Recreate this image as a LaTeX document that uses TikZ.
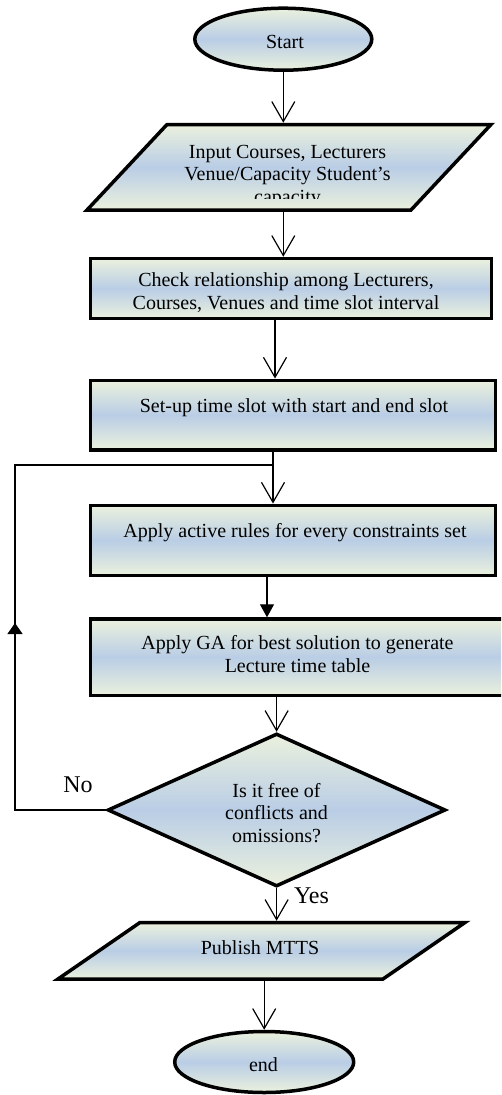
\documentclass[tikz,border=0pt]{standalone}
\usepackage{fontspec}
\setmainfont{Liberation Serif}
\usetikzlibrary{shapes.geometric,arrows.meta}
\definecolor{lgr}{RGB}{235,241,222}
\definecolor{lbl}{RGB}{185,205,229}
\begin{document}
\begin{tikzpicture}[x=1pt,y=-1pt,
  shp/.style={draw=black, line width=3.5pt, top color=lgr, bottom color=lgr, middle color=lbl, inner sep=0pt},
  bx/.style={shp, rectangle},
  hold/.style={inner sep=0pt, outer sep=0pt},
  txt/.style={inner sep=0pt, align=center, font=\fontsize{20}{22.5}\selectfont},
  lab/.style={inner sep=0pt, font=\fontsize{24}{28.8}\selectfont},
  arr/.style={line width=1.1pt, -{Straight Barb[length=20pt,width=23pt,line width=1.2pt]}},
  farr/.style={line width=1.1pt, -{Triangle[length=13pt,width=14pt]}},
  uarr/.style={line width=1.1pt, -{Triangle[length=11pt,width=15pt]}},
  ln/.style={line width=1.1pt}]
\useasboundingbox (0,0) rectangle (501,1095);
\clip (0,0) rectangle (501,1095);

% shapes
\node[shp, ellipse, minimum width=177pt, minimum height=62pt] (start) at (283.3,39.2) {};
\node[hold, minimum width=404pt, minimum height=89pt] (in) at (289,167.25) {};
\path[shp] (167,124.5) -- (491,124.5) -- (411,210) -- (87,210) -- cycle;
\node[bx, minimum width=401.2pt, minimum height=59.8pt] (chk) at (290.9,288.4) {};
\node[bx, minimum width=405.2pt, minimum height=69.6pt] (setup) at (292.9,415.1) {};
\node[bx, minimum width=405.2pt, minimum height=70pt] (apply) at (292.9,540.3) {};
\node[bx, minimum width=429.7pt, minimum height=76.3pt] (ga) at (305.2,657.2) {};
\node[shp, diamond, minimum width=338pt, minimum height=153pt] (dia) at (276.6,810) {};
\node[hold, minimum width=407pt, minimum height=60pt] (pub) at (261.5,950.75) {};
\path[shp] (140,922.5) -- (465,922.5) -- (383,979) -- (58,979) -- cycle;
\node[shp, ellipse, minimum width=179pt, minimum height=61pt] (end) at (264.2,1062) {};

% texts
\node[txt] (start-t) at (285,43.8) {\strut Start};
\begin{scope}
\clip (0,0) rectangle (501,198.5);
\node[txt] (in-t) at (287.5,176) {\strut Input Courses, Lecturers\\\strut Venue/Capacity Student’s\\\strut capacity};
\end{scope}
\node[txt] (chk-t) at (286,293.4) {\strut Check relationship among Lecturers,\\\strut Courses, Venues and time slot interval};
\node[txt] (setup-t) at (294,407.5) {\strut Set-up time slot with start and end slot};
\node[txt] (apply-t) at (295,532.5) {\strut Apply active rules for every constraints set};
\node[txt] (ga-t) at (297.5,656.7) {\strut Apply GA for best solution to generate\\\strut Lecture time table};
\node[txt] (dia-t) at (276.5,815.2) {\strut Is it free of\\\strut conflicts and\\\strut omissions?};
\node[txt] (pub-t) at (260,949.5) {\strut Publish MTTS};
\node[txt] (end-t) at (263.5,1067.2) {\strut end};
\node[lab] (no) at (78,787.2) {\strut No};
\node[lab] (yes) at (311.5,898.2) {\strut Yes};

% connectors
\draw[arr] (start.south) -- (start.south |- in.north);
\draw[arr] (in.south -| start.south) -- (chk.north -| start.south);
\draw[arr] (chk.south -| 275,0) -- (setup.north -| 275,0);
\draw[arr] (setup.south -| 273,0) -- (apply.north -| 273,0);
\draw[farr] (apply.south -| 267,0) -- (ga.north -| 267,0);
\draw[arr] (ga.south -| dia.north) -- (dia.north);
\draw[arr] (dia.south) -- (dia.south |- pub.north);
\draw[arr] (pub.south -| end.north) -- (end.north);

% loop back
\coordinate (lb) at (dia.west -| 15,0);
\coordinate (la) at (15,623);
\coordinate (lt) at (15,465);
\coordinate (lj) at (273,465);
\draw[ln] (dia.west) -- (lb) -- (lt) -- (lj);
\draw[uarr] (lb) -- (la);
\end{tikzpicture}
\end{document}
